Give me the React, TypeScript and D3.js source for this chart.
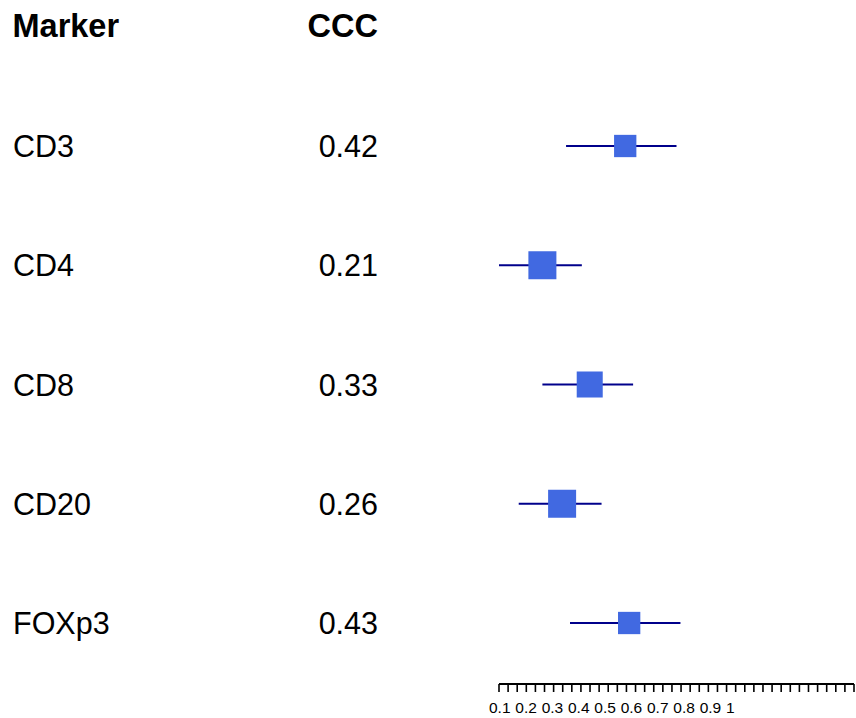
import React from "react";
import * as d3 from "d3";

const markers = ["CD3", "CD4", "CD8", "CD20", "FOXp3"];
const ccc = [0.42, 0.21, 0.33, 0.26, 0.43];
const lower = [0.27, 0.1, 0.21, 0.15, 0.28];
const upper = [0.55, 0.31, 0.44, 0.36, 0.56];
const tickLabels = ["0.1", "0.2", "0.3", "0.4", "0.5", "0.6", "0.7", "0.8", "0.9", "1"];
const headers = ["Marker", "CCC"];

const W = 856;
const H = 718;
const FONT = "'Liberation Sans', Arial, Helvetica, sans-serif";

export default function App() {
  const x = d3.scaleLinear().domain([0.1, 1]).range([499, 854]);
  const y = d3.scalePoint<string>().domain(markers).range([146, 623]);
  const prec = lower.map((l, i) => 1 / (upper[i] - l));
  const box = d3
    .scaleLinear()
    .domain([d3.min(prec) as number, d3.max(prec) as number])
    .range([22.3, 28]);
  const nTicks = 40;
  const ticks = d3.range(nTicks).map((i) => 0.1 + (i * 0.9) / (nTicks - 1));
  const labelPos = d3
    .scalePoint<string>()
    .domain(tickLabels)
    .range([489, 726]);
  const axisY = 684;

  return (
    <svg
      width={W}
      height={H}
      style={{ position: "absolute", left: 0, top: 0, background: "#fff" }}
      fontFamily={FONT}
    >
      <rect width={W} height={H} fill="#fff" />
      <text x={12.5} y={37} fontSize={32.5} fontWeight="bold" fill="#000">
        {headers[0]}
      </text>
      <text x={378} y={37} fontSize={32.5} fontWeight="bold" textAnchor="end" fill="#000">
        {headers[1]}
      </text>
      {markers.map((m, i) => {
        const cy = y(m) as number;
        const s = box(prec[i]);
        return (
          <g key={m}>
            <text x={13} y={cy + 11} fontSize={30.5} fill="#000">
              {m}
            </text>
            <text x={378} y={cy + 11} fontSize={30.5} textAnchor="end" fill="#000">
              {ccc[i].toFixed(2)}
            </text>
            <line
              x1={x(lower[i])}
              x2={x(upper[i])}
              y1={cy}
              y2={cy}
              stroke="#00008B"
              strokeWidth={2}
            />
            <rect
              x={x(ccc[i]) - s / 2}
              y={cy - s / 2}
              width={s}
              height={s}
              fill="#4169E1"
            />
          </g>
        );
      })}
      <g>
        <line x1={x(0.1)} x2={x(1)} y1={axisY} y2={axisY} stroke="#000" strokeWidth={1.8} />
        {ticks.map((t, i) => (
          <line
            key={i}
            x1={x(t)}
            x2={x(t)}
            y1={axisY}
            y2={axisY + 8}
            stroke="#000"
            strokeWidth={1.6}
          />
        ))}
        {tickLabels.map((l) => (
          <text key={l} x={labelPos(l)} y={713} fontSize={15.5} fill="#000">
            {l}
          </text>
        ))}
      </g>
    </svg>
  );
}
